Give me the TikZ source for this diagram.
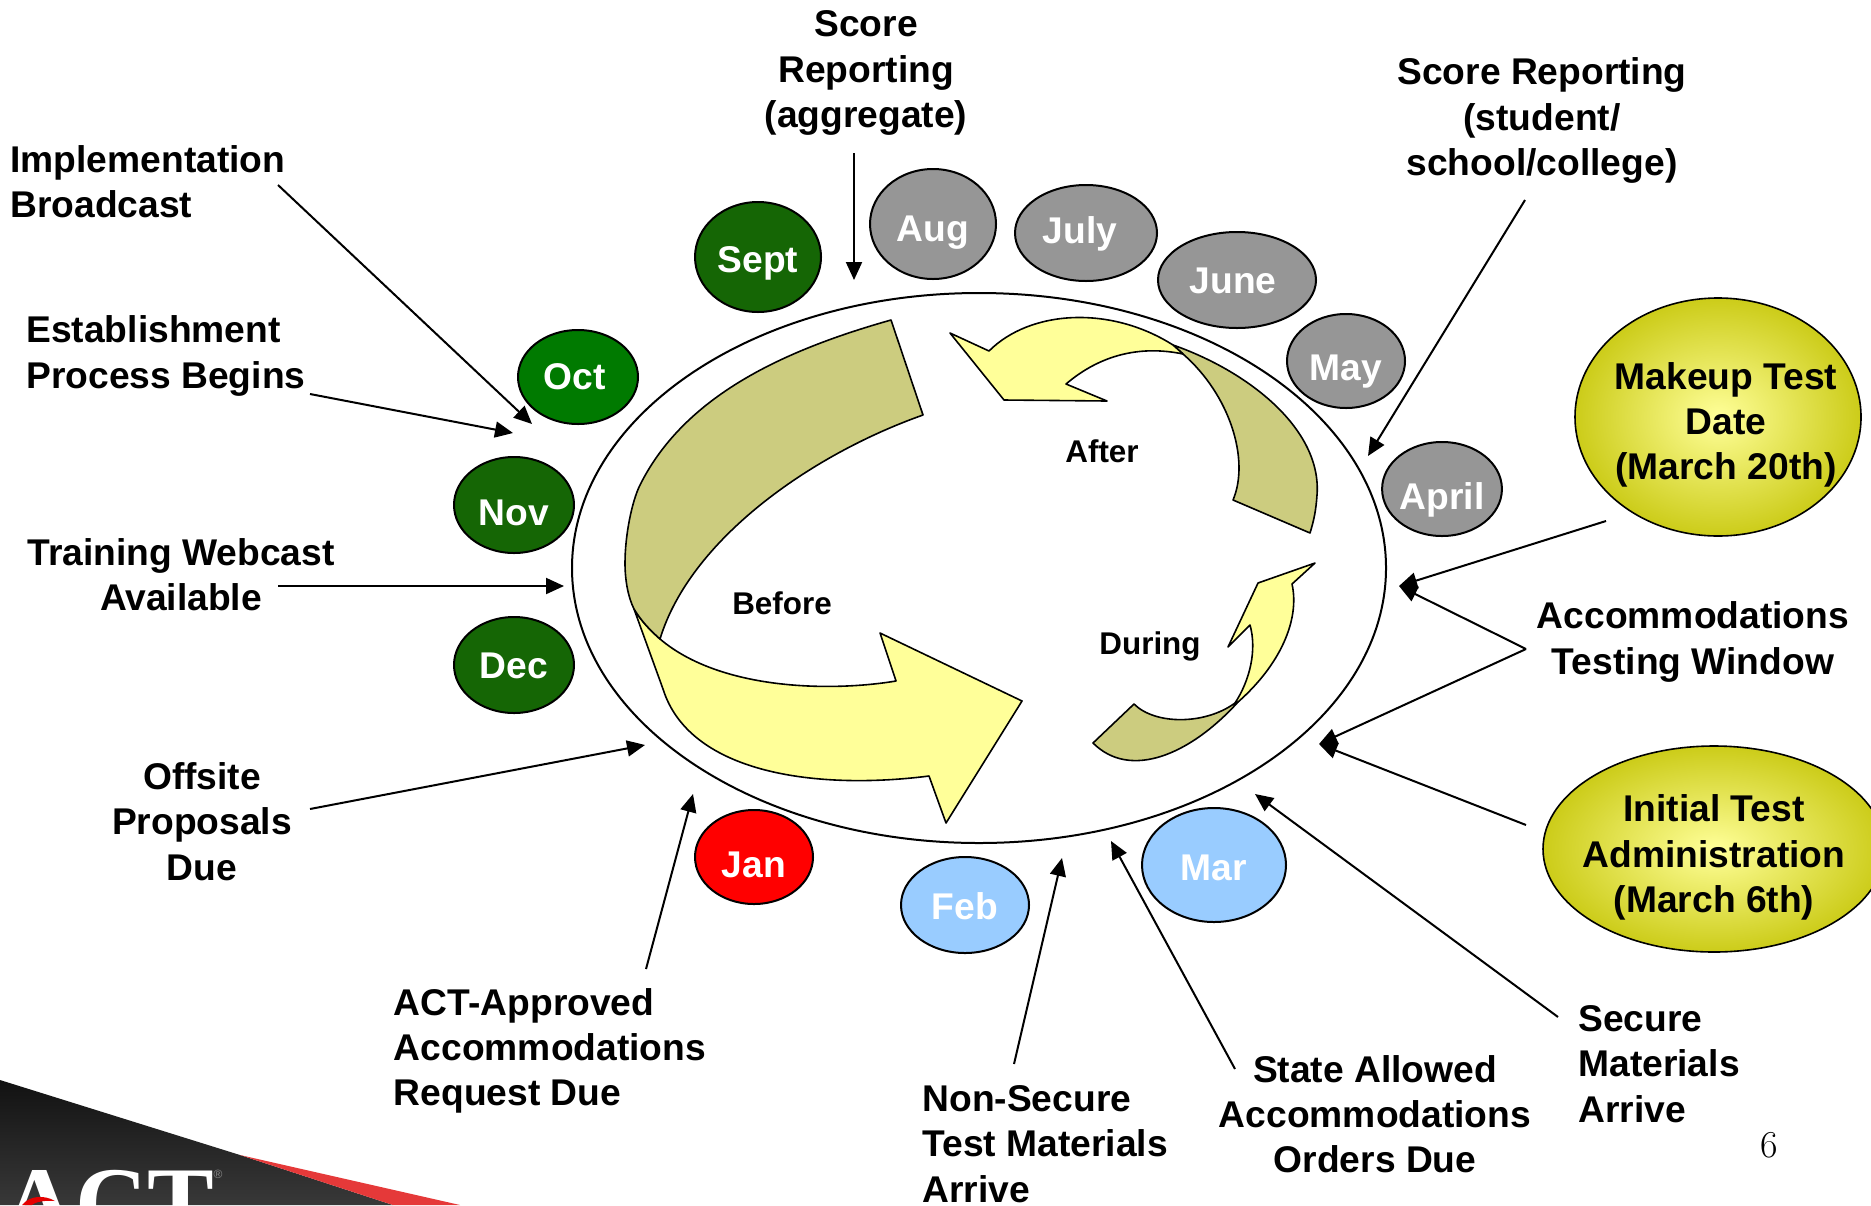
\documentclass[tikz,border=0pt]{standalone}
\usepackage{fontspec}
\setsansfont{Liberation Sans}
\newfontfamily\logofont{Liberation Serif}
\usetikzlibrary{arrows.meta,shapes.geometric}
\definecolor{darkgrn}{HTML}{156605}
\definecolor{midgrn}{HTML}{007A00}
\definecolor{grayfill}{HTML}{969696}
\definecolor{bluefill}{HTML}{99CCFF}
\definecolor{paleyel}{HTML}{FFFF99}
\definecolor{olive}{HTML}{CCCC7F}
\definecolor{goldol}{HTML}{CCCC19}
\tikzset{
  x=0.5pt,y=-0.5pt,
  lbl/.style={font=\sffamily\bfseries\fontsize{18.6}{22.6}\selectfont,inner sep=0pt,align=center},
  lbll/.style={lbl,align=left,anchor=west},
  small/.style={font=\sffamily\bfseries\fontsize{15.7}{18}\selectfont,inner sep=0pt},
  month/.style n args={4}{ellipse,draw=black,line width=1pt,fill=#3,minimum width=#1pt,minimum height=#2pt,inner sep=0pt,outer sep=0pt,text=white,text height=#4pt,text depth=0pt,font=\sffamily\bfseries\fontsize{18.6}{22.6}\selectfont},
  gold/.style n args={2}{ellipse,draw=black,line width=0.8pt,inner color=paleyel,outer color=goldol,minimum width=#1pt,minimum height=#2pt,inner sep=0pt,outer sep=0pt},
  conn/.style={draw=black,line width=1pt,-{Triangle[length=9pt,width=8pt]}},
  band/.style={draw=black,line width=0.8pt,line join=round},
}
\begin{document}
\begin{tikzpicture}
\useasboundingbox (0,0) rectangle (1871,1205);
% logo
\path[top color=black!93,bottom color=black!78] (0,1080) -- (240,1155) -- (393,1205) -- (0,1205) -- cycle;
\fill[red!75!white!90!black] (240,1155) -- (460,1205) -- (393,1205) -- cycle;
\node[font=\logofont\bfseries\fontsize{50}{50}\selectfont,text=white,anchor=base west,inner sep=0pt] (logo) at (3,1236) {ACT};
\node[font=\sffamily\fontsize{6}{6}\selectfont,text=black!45,inner sep=0pt] (reg) at (218,1174) {®};
\fill[red!90!black] (22,1205) .. controls (30,1195) and (45,1195) .. (55,1201) .. controls (45,1200) and (35,1202) .. (32,1205) -- cycle;

% large ellipse
\node[ellipse,draw=black,line width=1pt,minimum width=407pt,minimum height=275pt,inner sep=0pt,outer sep=0pt] (ring) at (979,568) {};

% Before arrow
\path[band,fill=paleyel] (634,609) -- (663,689) .. controls (690,775) and (820,790) .. (929,776) -- (946,823) -- (1022,701) -- (880,633) -- (896,681) .. controls (830,692) and (720,690) .. (660,639) .. controls (650,630) and (642,622) .. (634,609) -- cycle;
\path[band,fill=olive] (891,320) .. controls (785,350) and (685,395) .. (640,485) .. controls (632,501) and (625,535) .. (625,563) .. controls (625,580) and (628,597) .. (634,609) .. controls (642,622) and (650,630) .. (660,639) .. controls (690,540) and (810,455) .. (923,415) -- cycle;
% After arrow
\path[band,fill=olive] (1173,345) .. controls (1250,372) and (1322,430) .. (1317,495) .. controls (1316,510) and (1314,520) .. (1310,533) -- (1233,500) .. controls (1250,460) and (1230,395) .. (1183,354) -- cycle;
\path[band,fill=paleyel] (950,333) -- (989,351) .. controls (1030,310) and (1110,305) .. (1173,345) -- (1183,354) .. controls (1140,345) and (1100,355) .. (1066,384) -- (1107,401) -- (1004,400) -- cycle;
% During arrow
\path[band,fill=olive] (1134,704) .. controls (1155,725) and (1205,725) .. (1235,703) -- (1238,702) .. controls (1190,755) and (1130,780) .. (1093,743) -- cycle;
\path[band,fill=paleyel] (1315,563) -- (1258,583) -- (1228,647) -- (1250,625) .. controls (1257,650) and (1250,680) .. (1235,703) -- (1238,702) .. controls (1280,665) and (1300,620) .. (1292,584) -- cycle;

\node[small] (before) at (782,603) {Before};
\node[small] (after) at (1102,451) {After};
\node[small] (during) at (1150,646) {During};

% months
\node[month={63}{55}{darkgrn}{15.6}] (sept) at (758,257) {Sept};
\node[month={63}{55}{grayfill}{17.6}] (aug) at (933,224) {Aug};
\node[month={71}{48}{grayfill}{10.6}] (july) at (1086,233) {July\kern6pt};
\node[month={79}{48}{grayfill}{13.4}] (june) at (1237,280) {June\kern4pt};
\node[month={59}{47}{grayfill}{19.5}] (may) at (1346,361) {May};
\node[month={59}{47}{grayfill}{20.3}] (april) at (1442,489) {April};
\node[month={60}{47}{midgrn}{12.4}] (oct) at (578,377) {Oct\kern3.5pt};
\node[month={60}{48}{darkgrn}{20.4}] (nov) at (514,505) {Nov};
\node[month={60}{48}{darkgrn}{13.4}] (dec) at (514,665) {Dec};
\node[month={59}{47}{red}{20.4}] (jan) at (754,857) {Jan};
\node[month={64}{48}{bluefill}{14.4}] (feb) at (965,905) {Feb};
\node[month={72}{57}{bluefill}{15}] (mar) at (1214,865) {Mar};

% gold ellipses
\node[gold={143}{119}] (makeup) at (1718,417) {};
\node[gold={171}{103}] (initial) at (1714,849) {};
\node[lbl] (makeuptxt) at (1726,425) {Makeup Test\\Date\\(March 20th)};
\node[lbl] (initialtxt) at (1714,857.5) {Initial Test\\Administration\\(March 6th)};

% labels
\node[lbl] (agg) at (866,73) {Score\\Reporting\\(aggregate)};
\node[lbl] (student) at (1542,120.5) {Score Reporting\\(student/\\school/college)};
\node[lbll] (impl) at (10,182) {Implementation\\Broadcast};
\node[lbll] (estab) at (26,356) {Establishment\\Process Begins};
\node[lbl] (train) at (181,574.5) {Training Webcast\\Available};
\node[lbl] (offsite) at (202,821.5) {Offsite\\Proposals\\Due};
\node[lbll] (actapp) at (393.5,1051) {ACT-Approved\\Accommodations\\Request Due};
\node[lbll] (nonsec) at (922,1144) {Non-Secure\\Test Materials\\Arrive};
\node[lbl] (state) at (1375,1114) {State Allowed\\Accommodations\\Orders Due};
\node[lbll] (secure) at (1578,1064) {Secure\\Materials\\Arrive};
\node[lbl] (accom) at (1693,642) {Accommodations\\Testing Window};
\node[font=\fontsize{19}{19}\selectfont,inner sep=0pt] (pagenum) at (1769,1145) {6};

% connector ends
\coordinate (agg-s) at (854,153);     \coordinate (agg-e) at (854,280);
\coordinate (impl-s) at (278,185);    \coordinate (impl-e) at (532,424);
\coordinate (estab-s) at (310,394);   \coordinate (estab-e) at (513,433);
\coordinate (train-s) at (278,586);   \coordinate (train-e) at (564,586);
\coordinate (off-s) at (310,809);     \coordinate (off-e) at (645,745);
\coordinate (act-s) at (646,969);     \coordinate (act-e) at (693,794);
\coordinate (non-s) at (1014,1064);   \coordinate (non-e) at (1062,858);
\coordinate (state-s) at (1235,1069); \coordinate (state-e) at (1111,841);
\coordinate (sec-s) at (1558,1017);   \coordinate (sec-e) at (1255,794);
\coordinate (stu-s) at (1525,200);    \coordinate (stu-e) at (1368,456);
\coordinate (mk-s) at (1606,521);     \coordinate (win1) at (1399,586);
\coordinate (acc-s) at (1526,649);    \coordinate (win2) at (1319,744);
\coordinate (ini-s) at (1526,825);

\draw[conn] (agg-s) -- (agg-e);
\draw[conn] (impl-s) -- (impl-e);
\draw[conn] (estab-s) -- (estab-e);
\draw[conn] (train-s) -- (train-e);
\draw[conn] (off-s) -- (off-e);
\draw[conn] (act-s) -- (act-e);
\draw[conn] (non-s) -- (non-e);
\draw[conn] (state-s) -- (state-e);
\draw[conn] (sec-s) -- (sec-e);
\draw[conn] (stu-s) -- (stu-e);
\draw[conn] (mk-s) -- (win1);
\draw[conn] (acc-s) -- (win1);
\draw[conn] (acc-s) -- (win2);
\draw[conn] (ini-s) -- (win2);
\end{tikzpicture}
\end{document}
